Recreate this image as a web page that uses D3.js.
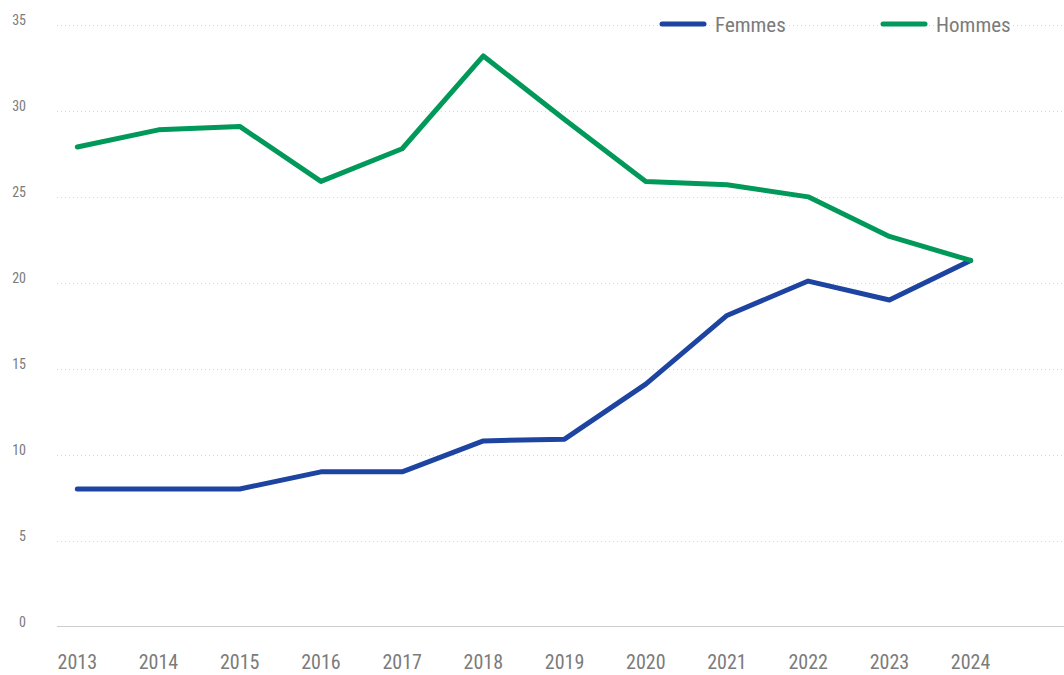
<!DOCTYPE html>
<html>
<head>
<meta charset="utf-8">
<script src="https://cdn.jsdelivr.net/npm/d3@7"></script>
<style>
  body { margin: 0; background: #fff; }
  svg text { font-family: "Roboto Condensed", "Liberation Sans Narrow", "DejaVu Sans Condensed", sans-serif; fill: #7b7b7b; }
</style>
</head>
<body>
<div id="chart"></div>
<script>
// Données
const years = [2013, 2014, 2015, 2016, 2017, 2018, 2019, 2020, 2021, 2022, 2023, 2024];
const femmes = [8, 8, 8, 9, 9, 10.8, 10.9, 14.1, 18.1, 20.1, 19, 21.3];
const hommes = [27.9, 28.9, 29.1, 25.9, 27.8, 33.2, 29.5, 25.9, 25.7, 25, 22.7, 21.3];
const yTicks = [0, 5, 10, 15, 20, 25, 30, 35];
const seriesNames = ['Femmes', 'Hommes'];
const colors = ['#1c44a0', '#00995a'];

const WIDTH = 1064;
const HEIGHT = 675;
const plotLeft = 57, plotRight = 1064, plotTop = 25, plotBottom = 626.5;

const svg = d3.select('#chart')
    .append('svg')
    .attr('width', WIDTH)
    .attr('height', HEIGHT);

const x = d3.scaleLinear()
    .domain([2012.75, 2025.15])
    .range([plotLeft, plotRight]);

const y = d3.scaleLinear()
    .domain([0, 35])
    .range([plotBottom, plotTop]);

// Grille
svg.append('g')
    .selectAll('line')
    .data(yTicks.filter(d => d > 0))
    .join('line')
    .attr('x1', plotLeft)
    .attr('x2', plotRight)
    .attr('y1', d => Math.round(y(d)) + 0.5)
    .attr('y2', d => Math.round(y(d)) + 0.5)
    .attr('stroke', '#d6d6d6')
    .attr('stroke-width', 1)
    .attr('stroke-dasharray', '1,3');

// Axe x
svg.append('line')
    .attr('x1', plotLeft)
    .attr('x2', plotRight)
    .attr('y1', plotBottom)
    .attr('y2', plotBottom)
    .attr('stroke', '#cccccc')
    .attr('stroke-width', 1);

// Étiquettes y
svg.append('g')
    .selectAll('text')
    .data(yTicks)
    .join('text')
    .attr('x', 26)
    .attr('y', d => y(d))
    .attr('text-anchor', 'end')
    .attr('font-size', 14)
    .text(d => d);

// Étiquettes x
svg.append('g')
    .selectAll('text')
    .data(years)
    .join('text')
    .attr('x', d => x(d))
    .attr('y', 669)
    .attr('text-anchor', 'middle')
    .attr('font-size', 20)
    .text(d => d);

// Lignes
const line = d3.line()
    .x((d, i) => x(years[i]))
    .y(d => y(d));

[femmes, hommes].forEach((data, i) => {
    svg.append('path')
        .datum(data)
        .attr('fill', 'none')
        .attr('stroke', colors[i])
        .attr('stroke-width', 5)
        .attr('stroke-linejoin', 'round')
        .attr('stroke-linecap', 'round')
        .attr('d', line);
});

// Légende
const legendX = [662, 883];
seriesNames.forEach((name, i) => {
    const lg = svg.append('g').attr('transform', `translate(${legendX[i]},24)`);
    lg.append('line')
        .attr('x1', 0).attr('x2', 42)
        .attr('y1', 0).attr('y2', 0)
        .attr('stroke', colors[i])
        .attr('stroke-width', 5)
        .attr('stroke-linecap', 'round');
    lg.append('text')
        .attr('x', 53)
        .attr('y', 7.5)
        .attr('font-size', 21)
        .text(name);
});
</script>
</body>
</html>
